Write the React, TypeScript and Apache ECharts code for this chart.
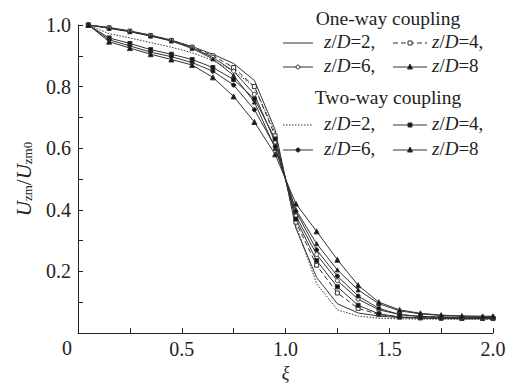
import React, { useEffect, useRef } from "react";
import * as echarts from "echarts";

const XI = [0.05, 0.15, 0.25, 0.35, 0.45, 0.55, 0.65, 0.75, 0.85, 0.95, 1.05, 1.15, 1.25, 1.35, 1.45, 1.55, 1.65, 1.75, 1.85, 1.95, 2.0];

const ONE_2 = [1.0, 0.992, 0.981, 0.967, 0.951, 0.930, 0.905, 0.875, 0.820, 0.660, 0.340, 0.180, 0.095, 0.065, 0.055, 0.050, 0.048, 0.047, 0.046, 0.046, 0.046];
const ONE_4 = [1.0, 0.991, 0.980, 0.966, 0.950, 0.928, 0.900, 0.862, 0.800, 0.640, 0.360, 0.220, 0.130, 0.080, 0.060, 0.052, 0.050, 0.049, 0.048, 0.048, 0.048];
const ONE_6 = [1.0, 0.990, 0.979, 0.965, 0.949, 0.926, 0.895, 0.850, 0.775, 0.620, 0.380, 0.255, 0.170, 0.110, 0.075, 0.060, 0.054, 0.052, 0.051, 0.050, 0.050];
const ONE_8 = [1.0, 0.989, 0.978, 0.964, 0.948, 0.924, 0.890, 0.836, 0.750, 0.600, 0.400, 0.290, 0.205, 0.140, 0.095, 0.072, 0.062, 0.057, 0.055, 0.054, 0.054];
const TWO_2 = [1.0, 0.972, 0.958, 0.943, 0.928, 0.910, 0.885, 0.850, 0.800, 0.650, 0.350, 0.160, 0.075, 0.055, 0.048, 0.046, 0.045, 0.045, 0.045, 0.045, 0.045];
const TWO_4 = [1.0, 0.958, 0.940, 0.920, 0.905, 0.888, 0.862, 0.823, 0.760, 0.630, 0.370, 0.235, 0.150, 0.090, 0.062, 0.052, 0.049, 0.048, 0.047, 0.047, 0.047];
const TWO_6 = [1.0, 0.952, 0.932, 0.912, 0.897, 0.878, 0.850, 0.805, 0.725, 0.605, 0.395, 0.270, 0.185, 0.120, 0.080, 0.060, 0.053, 0.051, 0.050, 0.050, 0.050];
const TWO_8 = [1.0, 0.946, 0.925, 0.905, 0.888, 0.870, 0.830, 0.768, 0.685, 0.580, 0.420, 0.330, 0.238, 0.155, 0.100, 0.075, 0.064, 0.058, 0.055, 0.054, 0.054];

const X_TICKS = ["0", "0.5", "1.0", "1.5", "2.0"];
const Y_TICKS = ["0", "0.2", "0.4", "0.6", "0.8", "1.0"];

const LINE = "#333";
const FONT = "'Liberation Serif', 'Times New Roman', 'DejaVu Serif', serif";

type SeriesDef = {
  name: string;
  data: number[];
  symbol: string;
  size: number;
  dash: any;
  filled: boolean;
};

const SERIES: SeriesDef[] = [
  { name: "one2", data: ONE_2, symbol: "none", size: 0, dash: "solid", filled: false },
  { name: "one4", data: ONE_4, symbol: "rect", size: 4, dash: [5, 3], filled: false },
  { name: "one6", data: ONE_6, symbol: "circle", size: 4, dash: "solid", filled: false },
  { name: "one8", data: ONE_8, symbol: "triangle", size: 4, dash: "solid", filled: true },
  { name: "two2", data: TWO_2, symbol: "none", size: 0, dash: [1.5, 1.5], filled: false },
  { name: "two4", data: TWO_4, symbol: "rect", size: 4, dash: "solid", filled: true },
  { name: "two6", data: TWO_6, symbol: "circle", size: 4, dash: "solid", filled: true },
  { name: "two8", data: TWO_8, symbol: "triangle", size: 5, dash: "solid", filled: true },
];

function legendText(label: string, x: number, y: number) {
  const m = label.match(/^z\/D=(.*)$/);
  return {
    type: "text",
    left: x,
    top: y - 11,
    style: {
      text: `{i|z}{n|/}{i|D}{n|=${m ? m[1] : ""}}`,
      rich: {
        i: { fontFamily: FONT, fontSize: 19, fontStyle: "italic", fill: "#222" },
        n: { fontFamily: FONT, fontSize: 19, fill: "#222" },
      },
    },
  };
}

function legendSample(x1: number, x2: number, y: number, dash: any, symbol: string, filled: boolean, size: number) {
  const els: any[] = [
    {
      type: "line",
      shape: { x1, y1: y, x2, y2: y },
      style: { stroke: LINE, lineWidth: 1, lineDash: dash === "solid" ? null : dash },
    },
  ];
  const cx = (x1 + x2) / 2;
  const fill = filled ? "#111" : "#fff";
  if (symbol === "rect") {
    els.push({ type: "rect", shape: { x: cx - size / 2, y: y - size / 2, width: size, height: size }, style: { fill, stroke: LINE, lineWidth: 1 } });
  } else if (symbol === "circle") {
    els.push({ type: "circle", shape: { cx, cy: y, r: size / 2 }, style: { fill, stroke: LINE, lineWidth: 1 } });
  } else if (symbol === "triangle") {
    els.push({
      type: "polygon",
      shape: { points: [[cx, y - size / 2 - 0.5], [cx - size / 2, y + size / 2 - 0.5], [cx + size / 2, y + size / 2 - 0.5]] },
      style: { fill, stroke: LINE, lineWidth: 1 },
    });
  }
  return els;
}

export default function App() {
  const ref = useRef<HTMLDivElement>(null);
  useEffect(() => {
    if (!ref.current) return;
    const chart = echarts.init(ref.current, null, { renderer: "svg" });

    const series = SERIES.map((s) => ({
      type: "line",
      name: s.name,
      data: XI.map((x, i) => [x, s.data[i]]),
      symbol: s.symbol,
      symbolSize: s.size,
      showSymbol: s.symbol !== "none",
      lineStyle: { color: LINE, width: 1, type: s.dash },
      itemStyle: { color: s.filled ? "#111" : "#fff", borderColor: LINE, borderWidth: 1 },
      emphasis: { disabled: true },
    }));

    const c1a = 283, c1b = 313, t1 = 324;
    const c2a = 393, c2b = 427, t2 = 432;
    const rows = [43, 67, 125, 150];

    const graphic: any[] = [
      {
        type: "text",
        left: 62,
        top: 338,
        style: { text: X_TICKS[0], fontFamily: FONT, fontSize: 20, fill: "#222" },
      },
      {
        type: "text",
        x: 388,
        y: 18,
        style: { text: "One-way coupling", fontFamily: FONT, fontSize: 19.5, fill: "#222", align: "center", verticalAlign: "middle" },
      },
      {
        type: "text",
        x: 388,
        y: 97,
        style: { text: "Two-way coupling", fontFamily: FONT, fontSize: 19.5, fill: "#222", align: "center", verticalAlign: "middle" },
      },
      ...legendSample(c1a, c1b, rows[0], "solid", "none", false, 0),
      legendText("z/D=2,", t1, rows[0]),
      ...legendSample(c2a, c2b, rows[0], [5, 3], "rect", false, 4),
      legendText("z/D=4,", t2, rows[0]),
      ...legendSample(c1a, c1b, rows[1], "solid", "circle", false, 4),
      legendText("z/D=6,", t1, rows[1]),
      ...legendSample(c2a, c2b, rows[1], "solid", "triangle", true, 5),
      legendText("z/D=8", t2, rows[1]),
      ...legendSample(c1a, c1b, rows[2], [1.5, 1.5], "none", false, 0),
      legendText("z/D=2,", t1, rows[2]),
      ...legendSample(c2a, c2b, rows[2], "solid", "rect", true, 4),
      legendText("z/D=4,", t2, rows[2]),
      ...legendSample(c1a, c1b, rows[3], "solid", "circle", true, 4),
      legendText("z/D=6,", t1, rows[3]),
      ...legendSample(c2a, c2b, rows[3], "solid", "triangle", true, 5),
      legendText("z/D=8", t2, rows[3]),
    ];

    chart.setOption({
      animation: false,
      backgroundColor: "#fff",
      grid: { left: 78, top: 25, right: 16, bottom: 50, containLabel: false, outerBoundsMode: "none" },
      xAxis: {
        type: "value",
        min: 0,
        max: 2,
        interval: 0.5,
        name: "ξ",
        nameLocation: "middle",
        nameGap: 28,
        nameTextStyle: { fontFamily: FONT, fontSize: 18, fontStyle: "italic", color: "#222" },
        axisLine: { show: true, onZero: false, lineStyle: { color: "#222", width: 1 } },
        axisTick: { show: true, inside: true, length: 5, lineStyle: { color: "#222" } },
        minorTick: { show: true, splitNumber: 2, length: 5, lineStyle: { color: "#222" } },
        splitLine: { show: false },
        axisLabel: {
          fontFamily: FONT,
          fontSize: 20,
          color: "#222",
          margin: 6,
          showMinLabel: false,
          formatter: (v: number) => X_TICKS[Math.round(v / 0.5)] ?? "",
        },
      },
      yAxis: {
        type: "value",
        min: 0,
        max: 1,
        interval: 0.2,
        name: "{u|U}{s|zm}{n|/}{u|U}{s|zm0}",
        nameLocation: "middle",
        nameGap: 44,
        nameRotate: 90,
        nameTextStyle: {
          rich: {
            u: { fontFamily: FONT, fontSize: 21, fontStyle: "italic", color: "#222", verticalAlign: "bottom", lineHeight: 22 },
            n: { fontFamily: FONT, fontSize: 21, color: "#222", verticalAlign: "bottom", lineHeight: 22 },
            s: { fontFamily: FONT, fontSize: 13, color: "#222", verticalAlign: "bottom", lineHeight: 22, padding: [7, 0, 0, 0] },
          },
        },
        axisLine: { show: true, onZero: false, lineStyle: { color: "#222", width: 1 } },
        axisTick: { show: true, inside: true, length: 5, lineStyle: { color: "#222" } },
        minorTick: { show: true, splitNumber: 2, length: 5, lineStyle: { color: "#222" } },
        splitLine: { show: false },
        axisLabel: {
          fontFamily: FONT,
          fontSize: 20,
          color: "#222",
          margin: 7,
          showMinLabel: false,
          formatter: (v: number) => Y_TICKS[Math.round(v / 0.2)] ?? "",
        },
      },
      series,
      graphic,
    });
    return () => chart.dispose();
  }, []);
  return <div ref={ref} style={{ width: 509, height: 383, position: "absolute", left: 0, top: 0 }} />;
}
